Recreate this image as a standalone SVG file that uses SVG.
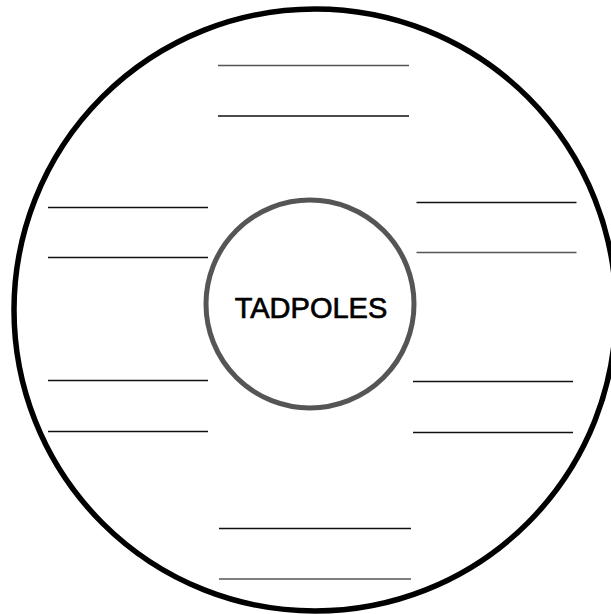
<svg xmlns="http://www.w3.org/2000/svg" width="611" height="614" viewBox="0 0 611 614">
<style>
.ln{stroke:#111;stroke-width:1.5;fill:none}
.lg{stroke:#555;stroke-width:1.7;fill:none}
.t{font-family:"Liberation Sans",Arial,sans-serif;font-size:29px;fill:#000;stroke:#000;stroke-width:0.7;text-anchor:middle}
</style>
<rect width="611" height="614" fill="#fff"/>
<g id="outer">
<circle cx="315" cy="310" r="301" fill="none" stroke="#000" stroke-width="5.5"/>
</g>
<g id="connectors">
<line class="lg" x1="218" y1="65.5" x2="409" y2="65.5"/>
<line class="ln" x1="218" y1="116" x2="409" y2="116"/>
<line class="ln" x1="48" y1="207.5" x2="208" y2="207.5"/>
<line class="ln" x1="48" y1="257.5" x2="208" y2="257.5"/>
<line class="ln" x1="48" y1="380.5" x2="208" y2="380.5"/>
<line class="ln" x1="48" y1="431.5" x2="208" y2="431.5"/>
<line class="ln" x1="416.5" y1="202.5" x2="576.5" y2="202.5"/>
<line class="lg" x1="416.5" y1="252.5" x2="576.5" y2="252.5"/>
<line class="ln" x1="413" y1="381.5" x2="573" y2="381.5"/>
<line class="ln" x1="413" y1="432.5" x2="573" y2="432.5"/>
<line class="ln" x1="219" y1="528.5" x2="411" y2="528.5"/>
<line class="lg" x1="219" y1="579" x2="411" y2="579"/>
</g>
<g id="center">
<circle cx="310" cy="304" r="104" fill="#fff" stroke="#555" stroke-width="5"/>
<text class="t" x="311" y="318">TADPOLES</text>
</g>
</svg>
